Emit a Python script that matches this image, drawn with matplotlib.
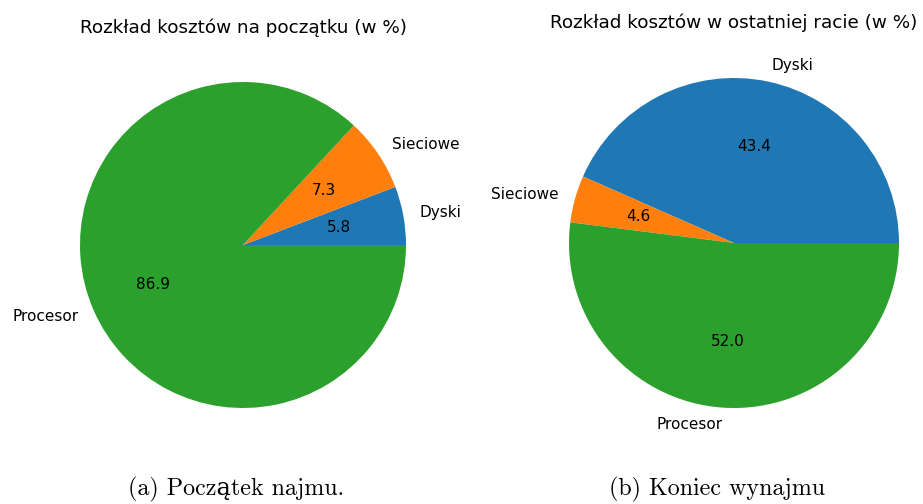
import matplotlib.pyplot as plt

labels = ['Dyski', 'Sieciowe', 'Procesor']
start_costs = [5.8, 7.3, 86.9]
end_costs = [43.4, 4.6, 52.0]

plt.rcParams['font.size'] = 11

W, H = 923, 504
fig = plt.figure(figsize=(W / 100, H / 100), dpi=100)

def pie_axes(cx, cy, r):
    # pie uses limits of +-1.25, so the axes box is 2.5 radii wide
    side = 2.5 * r
    return fig.add_axes([(cx - side / 2) / W, 1 - (cy + side / 2) / H, side / W, side / H])

ax1 = pie_axes(243, 245, 163)
ax1.pie(start_costs, labels=labels, autopct='%.1f')
ax1.set_title('Rozkład kosztów na początku (w %)', fontsize=13.2)

ax2 = pie_axes(734, 243, 165)
ax2.pie(end_costs, labels=labels, autopct='%.1f')
ax2.set_title('Rozkład kosztów w ostatniej racie (w %)', fontsize=13.2)

cap = {'family': ['cmr10', 'DejaVu Serif'], 'size': 17.3, 'ha': 'center', 'va': 'center'}
fig.text(236 / W, 1 - 489 / H, '(a) Początek najmu.', **cap)
fig.text(717 / W, 1 - 489 / H, '(b) Koniec wynajmu', **cap)

fig.savefig('out.png', dpi=100)
